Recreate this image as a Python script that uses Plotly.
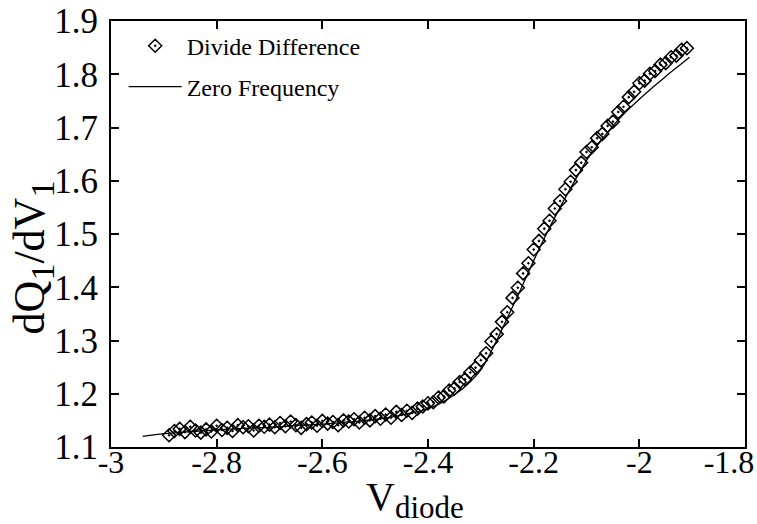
import plotly.graph_objects as go

# Divide Difference (markers)
x_dd = [-2.89, -2.88, -2.87, -2.86, -2.85, -2.84, -2.83, -2.82, -2.81, -2.80,
        -2.79, -2.78, -2.77, -2.76, -2.75, -2.74, -2.73, -2.72, -2.71, -2.70,
        -2.69, -2.68, -2.67, -2.66, -2.65, -2.64, -2.63, -2.62, -2.61, -2.60,
        -2.59, -2.58, -2.57, -2.56, -2.55, -2.54, -2.53, -2.52, -2.51, -2.50,
        -2.49, -2.48, -2.47, -2.46, -2.45, -2.44, -2.43, -2.42, -2.41, -2.40,
        -2.39, -2.38, -2.37, -2.36, -2.35, -2.34, -2.33, -2.32, -2.31, -2.30,
        -2.29, -2.28, -2.27, -2.26, -2.25, -2.24, -2.23, -2.22, -2.21, -2.20,
        -2.19, -2.18, -2.17, -2.16, -2.15, -2.14, -2.13, -2.12, -2.11, -2.10,
        -2.09, -2.08, -2.07, -2.06, -2.05, -2.04, -2.03, -2.02, -2.01, -2.00,
        -1.99, -1.98, -1.97, -1.96, -1.95, -1.94, -1.93, -1.92, -1.91]
y_dd = [1.122, 1.130, 1.134, 1.128, 1.138, 1.131, 1.127, 1.133, 1.129, 1.140,
        1.132, 1.136, 1.130, 1.141, 1.137, 1.139, 1.131, 1.140, 1.138, 1.142,
        1.137, 1.145, 1.139, 1.148, 1.141, 1.136, 1.143, 1.146, 1.140, 1.149,
        1.144, 1.147, 1.141, 1.150, 1.148, 1.152, 1.146, 1.155, 1.150, 1.158,
        1.153, 1.161, 1.155, 1.166, 1.160, 1.168, 1.164, 1.172, 1.176, 1.182,
        1.184, 1.193, 1.195, 1.206, 1.210, 1.222, 1.227, 1.240, 1.249, 1.263,
        1.276, 1.298, 1.312, 1.335, 1.353, 1.380, 1.399, 1.426, 1.445, 1.471,
        1.487, 1.510, 1.525, 1.548, 1.562, 1.584, 1.598, 1.620, 1.634, 1.654,
        1.663, 1.680, 1.688, 1.703, 1.711, 1.729, 1.739, 1.757, 1.767, 1.783,
        1.788, 1.801, 1.806, 1.818, 1.821, 1.832, 1.835, 1.846, 1.849]

# Zero Frequency (line)
x_zf = [-2.94, -2.90, -2.85, -2.80, -2.75, -2.70, -2.65, -2.60, -2.55, -2.50,
        -2.45, -2.40, -2.375, -2.35, -2.325, -2.30, -2.275, -2.25, -2.225, -2.20,
        -2.175, -2.15, -2.125, -2.10, -2.075, -2.05, -2.025, -2.00, -1.975, -1.95,
        -1.925, -1.905]
y_zf = [1.120, 1.125, 1.129, 1.132, 1.135, 1.137, 1.140, 1.143, 1.147, 1.152,
        1.160, 1.172, 1.183, 1.198, 1.218, 1.245, 1.290, 1.342, 1.395, 1.450,
        1.502, 1.550, 1.595, 1.638, 1.672, 1.703, 1.730, 1.753, 1.775, 1.796,
        1.816, 1.832]

x_ticks = [-3, -2.8, -2.6, -2.4, -2.2, -2, -1.8]
x_ticktext = ["-3", "-2.8", "-2.6", "-2.4", "-2.2", "-2",
              "-1.8\u00a0\u00a0\u00a0\u00a0"]
y_ticks = [1.1, 1.2, 1.3, 1.4, 1.5, 1.6, 1.7, 1.8, 1.9]
y_ticktext = ["1.1", "1.2", "1.3", "1.4", "1.5", "1.6", "1.7", "1.8", "1.9"]

x_title = "V<sub><span style='font-size:31px'>diode</span></sub>"
y_title = ("dQ<sub><span style='font-size:34px'>1</span></sub>/dV"
           "<sub><span style='font-size:34px'>1</span></sub>")

FONT = "Liberation Serif"

fig = go.Figure()
fig.add_trace(go.Scatter(
    x=x_dd, y=y_dd, mode="markers", name="Divide Difference", legend="legend",
    marker=dict(symbol="diamond-open-dot", size=10, color="black",
                line=dict(color="black", width=1.5)),
))
fig.add_trace(go.Scatter(
    x=x_zf, y=y_zf, mode="lines", name="Zero Frequency", legend="legend2",
    line=dict(color="black", width=1.3, shape="spline", smoothing=0.8),
))

axis_common = dict(
    showline=True, linecolor="black", linewidth=2, mirror="ticks",
    ticks="inside", ticklen=8, tickwidth=2, tickcolor="black",
    showgrid=False, zeroline=False, automargin=False,
    ticklabeloverflow="allow",
)

legend_common = dict(xanchor="left", yanchor="middle", bgcolor="rgba(0,0,0,0)",
                     font=dict(family=FONT, size=24), itemwidth=53,
                     borderwidth=0)

fig.update_layout(
    width=757, height=524,
    margin=dict(l=111, r=12, t=21, b=77),
    plot_bgcolor="white", paper_bgcolor="white",
    font=dict(family=FONT, color="black"),
    xaxis=dict(range=[-3, -1.8], tickvals=x_ticks, ticktext=x_ticktext,
               ticklabelstandoff=-14,
               tickfont=dict(family=FONT, size=32, color="black"),
               **axis_common),
    yaxis=dict(range=[1.1, 1.9], tickvals=y_ticks, ticktext=y_ticktext,
               ticklabelstandoff=4,
               tickfont=dict(family=FONT, size=35, color="black"),
               **axis_common),
    legend=dict(x=0.02, y=0.941, **legend_common),
    legend2=dict(x=0.02, y=0.845, **legend_common),
    showlegend=True,
    annotations=[
        dict(text=x_title, xref="paper", yref="paper", x=0.4795, y=-0.124,
             xanchor="center", yanchor="middle", showarrow=False,
             font=dict(family=FONT, size=40, color="black")),
        dict(text=y_title, xref="paper", yref="paper", x=-0.124, y=0.446,
             xanchor="center", yanchor="middle", showarrow=False, textangle=-90,
             font=dict(family=FONT, size=44, color="black")),
    ],
)

fig.write_html("out.html")
